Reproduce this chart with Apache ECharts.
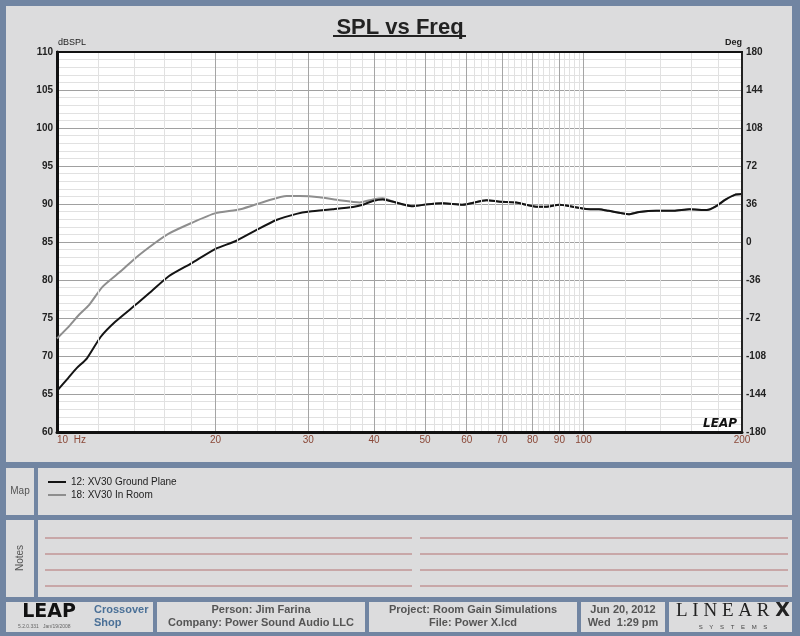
<!DOCTYPE html>
<html><head><meta charset="utf-8">
<script src="https://cdn.jsdelivr.net/npm/echarts@6/dist/echarts.min.js"></script>
<style>html,body{margin:0;padding:0;background:#7185a2;}#c{width:800px;height:636px;}</style>
</head><body><div id="c"></div>
<script>
// ---- data ----
const groundFreq = [10, 10.5, 10.9, 11.4, 12.1, 12.9, 14.2, 15.1, 16.3, 18.0, 20.0, 21.8, 23.8, 26.1, 28.5, 30.2, 33.4, 36.5, 38.1, 39.8, 41.6, 44.0, 47.5, 50.3, 54.1, 58.9, 65.4, 69.4, 74.5, 81.3, 84.9, 90, 95.3, 101, 107, 111.5, 121.8, 127.6, 137.5, 148.5, 158.9, 171.5, 178, 186.4, 193.8, 200];
const groundSpl  = [65.4, 67.1, 68.4, 69.7, 72.5, 74.5, 76.9, 78.5, 80.5, 82.2, 84.1, 85.1, 86.5, 87.9, 88.7, 89.0, 89.3, 89.6, 89.9, 90.4, 90.6, 90.2, 89.7, 89.95, 90.1, 89.9, 90.5, 90.3, 90.2, 89.65, 89.65, 89.9, 89.65, 89.35, 89.3, 89.1, 88.65, 88.95, 89.1, 89.1, 89.3, 89.2, 89.65, 90.6, 91.2, 91.3];
const roomFreq = [10, 10.6, 11.0, 11.5, 12.2, 13.3, 14.1, 15.3, 16.3, 18.0, 20.0, 22.3, 25.0, 27.3, 28.9, 31.5, 34.4, 37.6, 39.8, 41.6, 43.5, 46.7, 50.3, 54.1, 58.9, 65.4, 69.4, 74.5, 81.3, 84.9, 90, 95.3, 101, 107, 111.5, 121.8, 127.6, 137.5, 148.5, 158.9, 171.5, 178, 186.4, 193.8, 200];
const roomSpl  = [72.3, 74.1, 75.4, 76.7, 79.1, 81.3, 82.9, 84.8, 86.1, 87.5, 88.8, 89.3, 90.4, 91.05, 91.05, 90.9, 90.5, 90.2, 90.6, 90.75, 90.3, 89.75, 89.95, 90.1, 89.9, 90.5, 90.3, 90.2, 89.65, 89.65, 89.9, 89.65, 89.35, 89.3, 89.1, 88.65, 88.95, 89.1, 89.1, 89.3, 89.2, 89.65, 90.6, 91.2, 91.3];
const seriesNames = ['12: XV30 Ground Plane', '18: XV30 In Room'];
const xTickValues = [10, 20, 30, 40, 50, 60, 70, 80, 90, 100, 200];
const splRange = [60, 110, 5];
const degRange = [-180, 180, 36];

// ---- styling / layout ----
const FONT = 'Liberation Sans, Arial, sans-serif';
const FRAME = '#7185a2';
const PANEL = '#dcdcdd';

const zip = (xs, ys) => xs.map((x, i) => [x, ys[i]]);

// vertical grid lines: majors at tick values, 4 minors between each pair
const vLines = [];
xTickValues.forEach((v, i) => {
  const edge = (i === 0 || i === xTickValues.length - 1);
  vLines.push({
    xAxis: v,
    lineStyle: { color: edge ? 'rgba(0,0,0,0)' : '#a5a5a5', width: 1, type: 'solid' },
    label: { show: true, formatter: v === 10 ? '10  Hz' : String(v), align: v === 10 ? 'left' : 'center' }
  });
  if (i < xTickValues.length - 1) {
    const step = (xTickValues[i + 1] - v) / 5;
    for (let k = 1; k < 5; k++) {
      vLines.push({ xAxis: v + k * step, lineStyle: { color: '#e1e1e1', width: 1, type: 'solid' }, label: { show: false } });
    }
  }
});

const notesLines = [];
[538, 554, 570, 586].forEach(y => {
  notesLines.push({ type: 'line', shape: { x1: 45, y1: y, x2: 412, y2: y }, style: { stroke: '#b47272', lineWidth: 1 }, z: -40 });
  notesLines.push({ type: 'line', shape: { x1: 420, y1: y, x2: 788, y2: y }, style: { stroke: '#b47272', lineWidth: 1 }, z: -40 });
});

const panel = (x, y, w, h) => ({ type: 'rect', shape: { x, y, width: w, height: h }, style: { fill: PANEL }, z: -50 });
const txt = (x, y, text, extra) => ({ type: 'text', x, y, z: 10, style: Object.assign({ text, fontFamily: FONT, fontSize: 11, fill: '#555', fontWeight: 'bold', align: 'center', verticalAlign: 'middle' }, extra || {}) });

const borderAxis = (pos, w) => ({
  type: 'log', logBase: 10, min: 10, max: 200, position: pos, z: 6,
  axisLine: { show: true, onZero: false, lineStyle: { color: '#111', width: w } },
  axisTick: { show: false }, axisLabel: { show: false },
  splitLine: { show: false }, minorSplitLine: { show: false }
});

const chart = echarts.init(document.getElementById('c'));
chart.setOption({
  animation: false,
  backgroundColor: FRAME,
  title: {
    text: 'SPL vs Freq', left: 'center', top: 12,
    textStyle: { fontFamily: FONT, fontSize: 22, fontWeight: 'bold', color: '#222' }
  },
  legend: {
    data: seriesNames, left: 43, top: 472, orient: 'vertical',
    icon: 'rect', itemWidth: 18, itemHeight: 2, itemGap: 3,
    textStyle: { fontFamily: FONT, fontSize: 10, color: '#222', lineHeight: 10 }
  },
  grid: {
    left: 57, top: 52, width: 685, height: 380,
    show: true, backgroundColor: '#ffffff', borderColor: '#222', borderWidth: 2
  },
  xAxis: [borderAxis('bottom', 3), borderAxis('top', 2)],
  yAxis: [{
    type: 'value', min: splRange[0], max: splRange[1], interval: splRange[2],
    position: 'left', name: 'dBSPL', nameLocation: 'end', nameGap: 4, z: 0,
    nameTextStyle: { fontFamily: FONT, fontSize: 9, color: '#222', align: 'left', padding: [0, 0, 0, 1] },
    axisLine: { show: true, lineStyle: { color: '#111', width: 3 } },
    axisTick: { show: false },
    axisLabel: { fontFamily: FONT, fontSize: 10, fontWeight: 'bold', color: '#222', margin: 4 },
    splitLine: { show: true, lineStyle: { color: '#a0a0a0', width: 1 } },
    minorTick: { show: false, splitNumber: 5 },
    minorSplitLine: { show: true, lineStyle: { color: '#e1e1e1', width: 1 } }
  }, {
    type: 'value', min: degRange[0], max: degRange[1], interval: degRange[2],
    position: 'right', name: 'Deg', nameLocation: 'end', nameGap: 4, z: 6,
    nameTextStyle: { fontFamily: FONT, fontSize: 9, fontWeight: 'bold', color: '#222', align: 'right' },
    axisLine: { show: true, lineStyle: { color: '#222', width: 2 } }, axisTick: { show: false },
    axisLabel: { fontFamily: FONT, fontSize: 10, fontWeight: 'bold', color: '#222', margin: 4 },
    splitLine: { show: false }
  }],
  series: [{
    name: 'grid', type: 'line', data: [], silent: true, z: 1,
    markLine: {
      silent: true, symbol: ['none', 'none'], animation: false,
      label: { position: 'start', distance: 3, color: '#8a4838', fontFamily: FONT, fontSize: 10 },
      emphasis: { disabled: true },
      data: vLines
    }
  }, {
    name: seriesNames[1], type: 'line', data: zip(roomFreq, roomSpl), z: 3,
    showSymbol: false, smooth: 0.2, color: '#8e8e8e',
    lineStyle: { color: '#8e8e8e', width: 2 }
  }, {
    name: seriesNames[0], type: 'line', data: zip(groundFreq, groundSpl), z: 4,
    showSymbol: false, smooth: 0.2, color: '#141414',
    lineStyle: { color: '#141414', width: 2 }
  }],
  graphic: { elements: [
    panel(6, 6, 786, 456),
    panel(6, 468, 28, 47), panel(38, 468, 754, 47),
    panel(6, 520, 28, 77), panel(38, 520, 754, 77),
    panel(6, 602, 147, 30), panel(157, 602, 208, 30), panel(369, 602, 208, 30),
    panel(581, 602, 84, 30), panel(669, 602, 123, 30),
    ...notesLines,
    { type: 'line', shape: { x1: 333, y1: 36, x2: 466, y2: 36 }, style: { stroke: '#222', lineWidth: 2 }, z: 10 },
    txt(720, 424, 'LEAP', { fontSize: 12, fontWeight: 900, fontStyle: 'italic', fill: '#111', fontFamily: 'DejaVu Sans, sans-serif' }),
    txt(20, 491, 'Map', { rotation: Math.PI / 2, fontWeight: 'normal', fontSize: 10, fill: '#555' }),
    Object.assign(txt(20, 558, 'Notes', { fontWeight: 'normal', fontSize: 10, fill: '#555' }), { rotation: Math.PI / 2 }),
    txt(49, 612, 'LEAP', { fontSize: 19, fontWeight: 900, fill: '#111', fontFamily: 'DejaVu Sans, sans-serif' }),
    txt(18, 627, '5.2.0.331   Jan/19/2008', { fontSize: 5, fontWeight: 'normal', fill: '#666', align: 'left' }),
    txt(94, 610, 'Crossover', { fill: '#4a7097', align: 'left' }),
    txt(94, 623, 'Shop', { fill: '#4a7097', align: 'left' }),
    txt(261, 610, 'Person: Jim Farina'),
    txt(261, 623, 'Company: Power Sound Audio LLC'),
    txt(473, 610, 'Project: Room Gain Simulations'),
    txt(473, 623, 'File: Power X.lcd'),
    txt(623, 610, 'Jun 20, 2012'),
    txt(623, 623, 'Wed  1:29 pm'),
    txt(676, 611, 'L I N E A R', { fontFamily: 'Liberation Serif, serif', fontWeight: 'normal', fontSize: 19, fill: '#222', align: 'left' }),
    txt(790, 611, 'X', { fontFamily: 'DejaVu Sans, sans-serif', fontWeight: 900, fontSize: 19, fill: '#222', align: 'right' }),
    txt(733, 627, 'S    Y    S    T    E    M    S', { fontSize: 6, fontWeight: 'normal', fill: '#444' })
  ] }
});
</script></body></html>
